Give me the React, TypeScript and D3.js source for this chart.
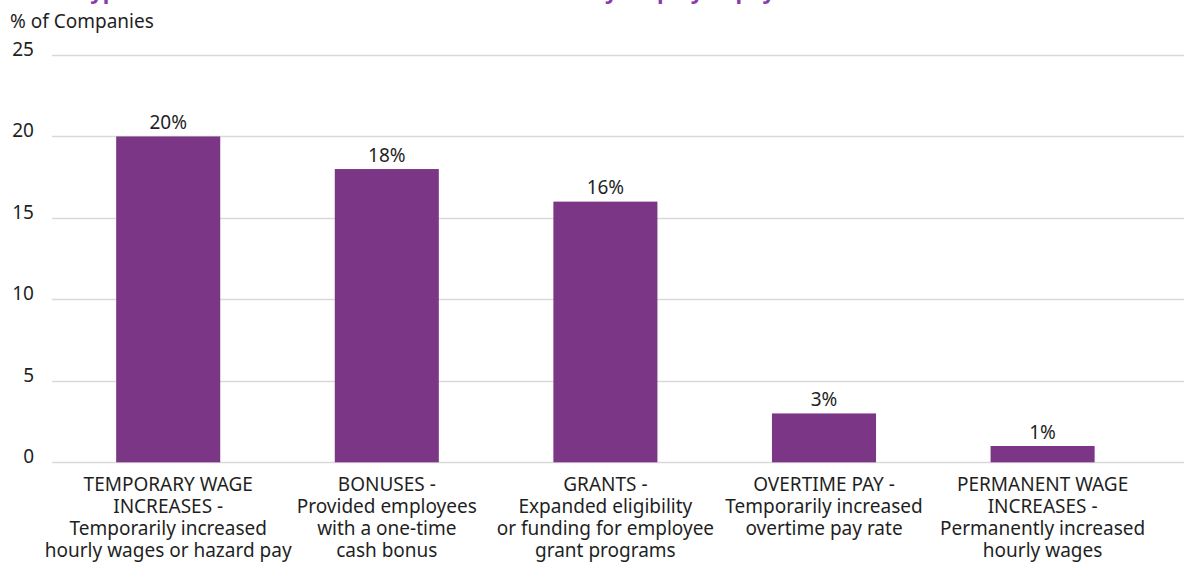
import React from "react";
import * as d3 from "d3";

const categories: string[][] = [
  ["TEMPORARY WAGE", "INCREASES -", "Temporarily increased", "hourly wages or hazard pay"],
  ["BONUSES -", "Provided employees", "with a one-time", "cash bonus"],
  ["GRANTS -", "Expanded eligibility", "or funding for employee", "grant programs"],
  ["OVERTIME PAY -", "Temporarily increased", "overtime pay rate"],
  ["PERMANENT WAGE", "INCREASES -", "Permanently increased", "hourly wages"],
];
const values: number[] = [20, 18, 16, 3, 1];
const yTicks: number[] = [0, 5, 10, 15, 20, 25];
const yAxisTitle = "% of Companies";
const title = "Types of Enhancements Made to Frontline Hourly Employee pay";

const W = 1184;
const H = 563;
const FONT = "'Noto Sans', 'Open Sans', sans-serif";
const FS = 19;
const BAR = "#7b3785";
const TEXT = "#1f1f1f";
const GRID = "#d9d9d9";

export default function App() {
  const keys = categories.map((_, i) => String(i));
  const x = d3
    .scaleBand<string>()
    .domain(keys)
    .range([58.9, 1151.9])
    .paddingInner(0.524)
    .paddingOuter(0.262);
  const y = d3.scaleLinear().domain([0, 25]).range([462.3, 55]);

  return (
    <svg
      width={W}
      height={H}
      style={{ position: "absolute", left: 0, top: 0, display: "block", background: "#fff" }}
      fontFamily={FONT}
    >
      <text x={78} y={-1.5} fontSize={22} fontWeight={700} fill="#8a3daa">
        {title}
      </text>
      <text x={10} y={27.5} fontSize={FS} fill={TEXT}>
        {yAxisTitle}
      </text>
      {yTicks.map((t) => (
        <g key={t}>
          <line
            x1={52}
            x2={W}
            y1={Math.round(y(t)) + 0.5}
            y2={Math.round(y(t)) + 0.5}
            stroke={GRID}
            strokeWidth={1.3}
          />
          <text x={34} y={y(t) + 1} fontSize={FS} textAnchor="end" fill={TEXT}>
            {t}
          </text>
        </g>
      ))}
      {values.map((v, i) => {
        const bx = x(keys[i]) as number;
        const bw = x.bandwidth();
        return (
          <g key={i}>
            <rect x={bx} y={y(v)} width={bw} height={y(0) - y(v)} fill={BAR} />
            <text
              x={bx + bw / 2}
              y={y(v) - 7.5}
              fontSize={FS}
              textAnchor="middle"
              fill={TEXT}
            >
              {v + "%"}
            </text>
            <text x={bx + bw / 2} y={491} fontSize={FS} textAnchor="middle" fill={TEXT}>
              {categories[i].map((line, j) => (
                <tspan key={j} x={bx + bw / 2} dy={j === 0 ? 0 : 22}>
                  {line}
                </tspan>
              ))}
            </text>
          </g>
        );
      })}
    </svg>
  );
}
